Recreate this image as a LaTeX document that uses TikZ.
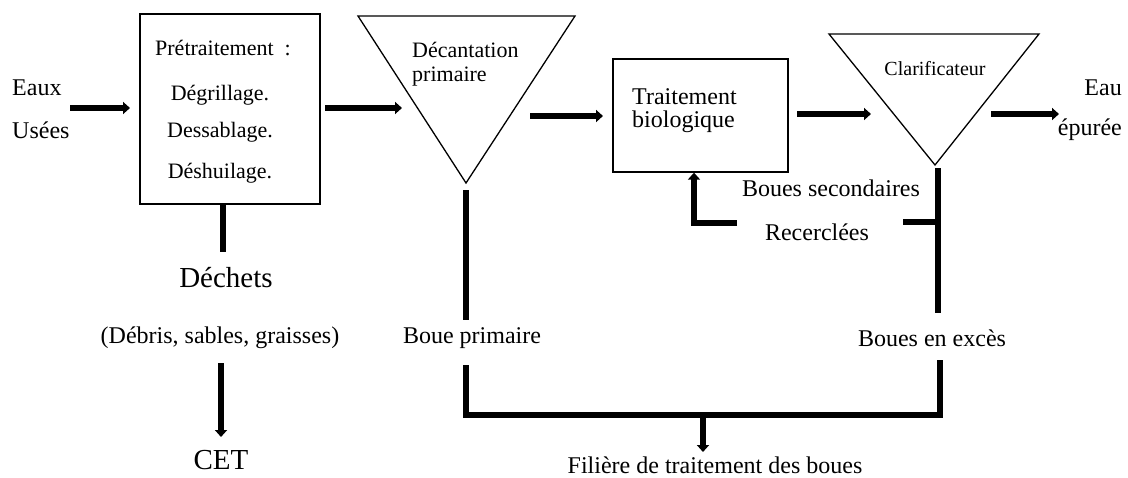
\documentclass[tikz,border=0pt]{standalone}
\usepackage{fontspec}
\setmainfont{Liberation Serif}
\usetikzlibrary{arrows.meta,calc}
\tikzset{
  pipe/.style={line width=5.5pt},
  flow/.style={line width=5.5pt,-{Triangle[length=7pt,width=12pt]}},
  box/.style={draw,line width=1.3pt,rectangle,inner sep=0pt},
  basin/.style={draw,line width=1.3pt,line join=miter},
  lbl/.style={inner sep=0pt,font=\fontsize{24}{28}\selectfont},
  mid/.style={inner sep=0pt,font=\fontsize{22}{26}\selectfont},
  big/.style={inner sep=0pt,font=\fontsize{29}{34}\selectfont},
  small/.style={inner sep=0pt,font=\fontsize{20}{24}\selectfont},
}
\begin{document}
\begin{tikzpicture}[x=1pt,y=-1pt]
\useasboundingbox (0,0) rectangle (1128,477);
% inlet
\node[lbl,anchor=west] (eaux) at (12,88) {Eaux};
\node[lbl,anchor=west] (usees) at (12,130) {Usées};
% pretreatment box
\node[box,minimum width=180pt,minimum height=190pt] (pre) at (230,109) {};
\node[mid] (pret) at (223,48) {Prétraitement~ :};
\node[mid] (degr) at (220,95) {Dégrillage.};
\node[mid] (dess) at (220,132) {Dessablage.};
\node[mid] (desh) at (220,173) {Déshuilage.};
% primary settling
\coordinate (t1a) at (358,16);
\coordinate (t1b) at (575,16);
\coordinate (t1c) at (466,183);
\draw[basin] (t1a) -- (t1b) -- (t1c) -- cycle;
\node[mid,anchor=west] (dec) at (412,50) {Décantation};
\node[mid,anchor=west] (prim) at (412,77) {primaire};
% biological treatment
\node[box,minimum width=175pt,minimum height=113pt] (bio) at (700.5,115.5) {};
\node[lbl,anchor=west] (trait) at (632,97) {Traitement};
\node[lbl,anchor=west] (biol) at (632,122) {biologique};
% clarifier
\coordinate (t2a) at (829,34);
\coordinate (t2b) at (1039,34);
\coordinate (t2c) at (935,165);
\draw[basin] (t2a) -- (t2b) -- (t2c) -- cycle;
\node[small] (clar) at (935,69) {Clarificateur};
% outlet
\node[lbl,anchor=east] (eau) at (1122,88) {Eau};
\node[lbl,anchor=east] (epur) at (1122,130) {épurée};
% wastes
\node[big] (dech) at (226,278) {Déchets};
\node[lbl] (debr) at (220,338) {(Débris, sables, graisses)};
\node[big] (cet) at (221,460) {CET};
% sludges
\node[lbl] (bprim) at (472,338) {Boue primaire};
\node[lbl] (bexc) at (932,338) {Boues en excès};
\node[lbl] (bsec) at (831,188) {Boues secondaires};
\node[lbl] (rec) at (817,232) {Recerclées};
\node[lbl] (fil) at (715,465) {Filière de traitement des boues};
% main flow arrows
\coordinate (a1s) at (70,108);   \coordinate (a1e) at (130,108);
\coordinate (a2s) at (325,108);  \coordinate (a2e) at (402,108);
\coordinate (a3s) at (530,116);  \coordinate (a3e) at (603,116);
\coordinate (a4s) at (797,114);  \coordinate (a4e) at (871,114);
\coordinate (a5s) at (991,114);  \coordinate (a5e) at (1059,114);
\draw[flow] (a1s) -- (a1e);
\draw[flow] (a2s) -- (a2e);
\draw[flow] (a3s) -- (a3e);
\draw[flow] (a4s) -- (a4e);
\draw[flow] (a5s) -- (a5e);
% wastes line
\draw[pipe] (pre.south -| 223,0) -- (223,252);
\draw[flow] (221,363) -- (221,437);
% primary sludge
\coordinate (p1) at (466,190);
\coordinate (p2) at (466,320);
\coordinate (p3) at (466,365);
\coordinate (jl) at (466,415);
\coordinate (jr) at (940,415);
\coordinate (e3) at (940,360);
\draw[pipe] (p1) -- (p2);
\draw[pipe,line join=miter] (p3) -- (jl) -- (jr) -- (e3);
% clarifier sludge
\coordinate (c1) at (938,168);
\coordinate (c2) at (938,313);
\coordinate (br) at (938,222);
\coordinate (bl) at (903,222);
\draw[pipe] (c1) -- (c2);
\draw[pipe] (br) -- (bl);
% recirculation
\coordinate (r1) at (737,223);
\coordinate (r2) at (694,223);
\draw[flow,line join=miter] (r1) -- (r2) -- (bio.south -| r2);
% to sludge treatment
\coordinate (f1) at (703,415);
\coordinate (f2) at (703,452);
\draw[flow] (f1) -- (f2);
\end{tikzpicture}
\end{document}
